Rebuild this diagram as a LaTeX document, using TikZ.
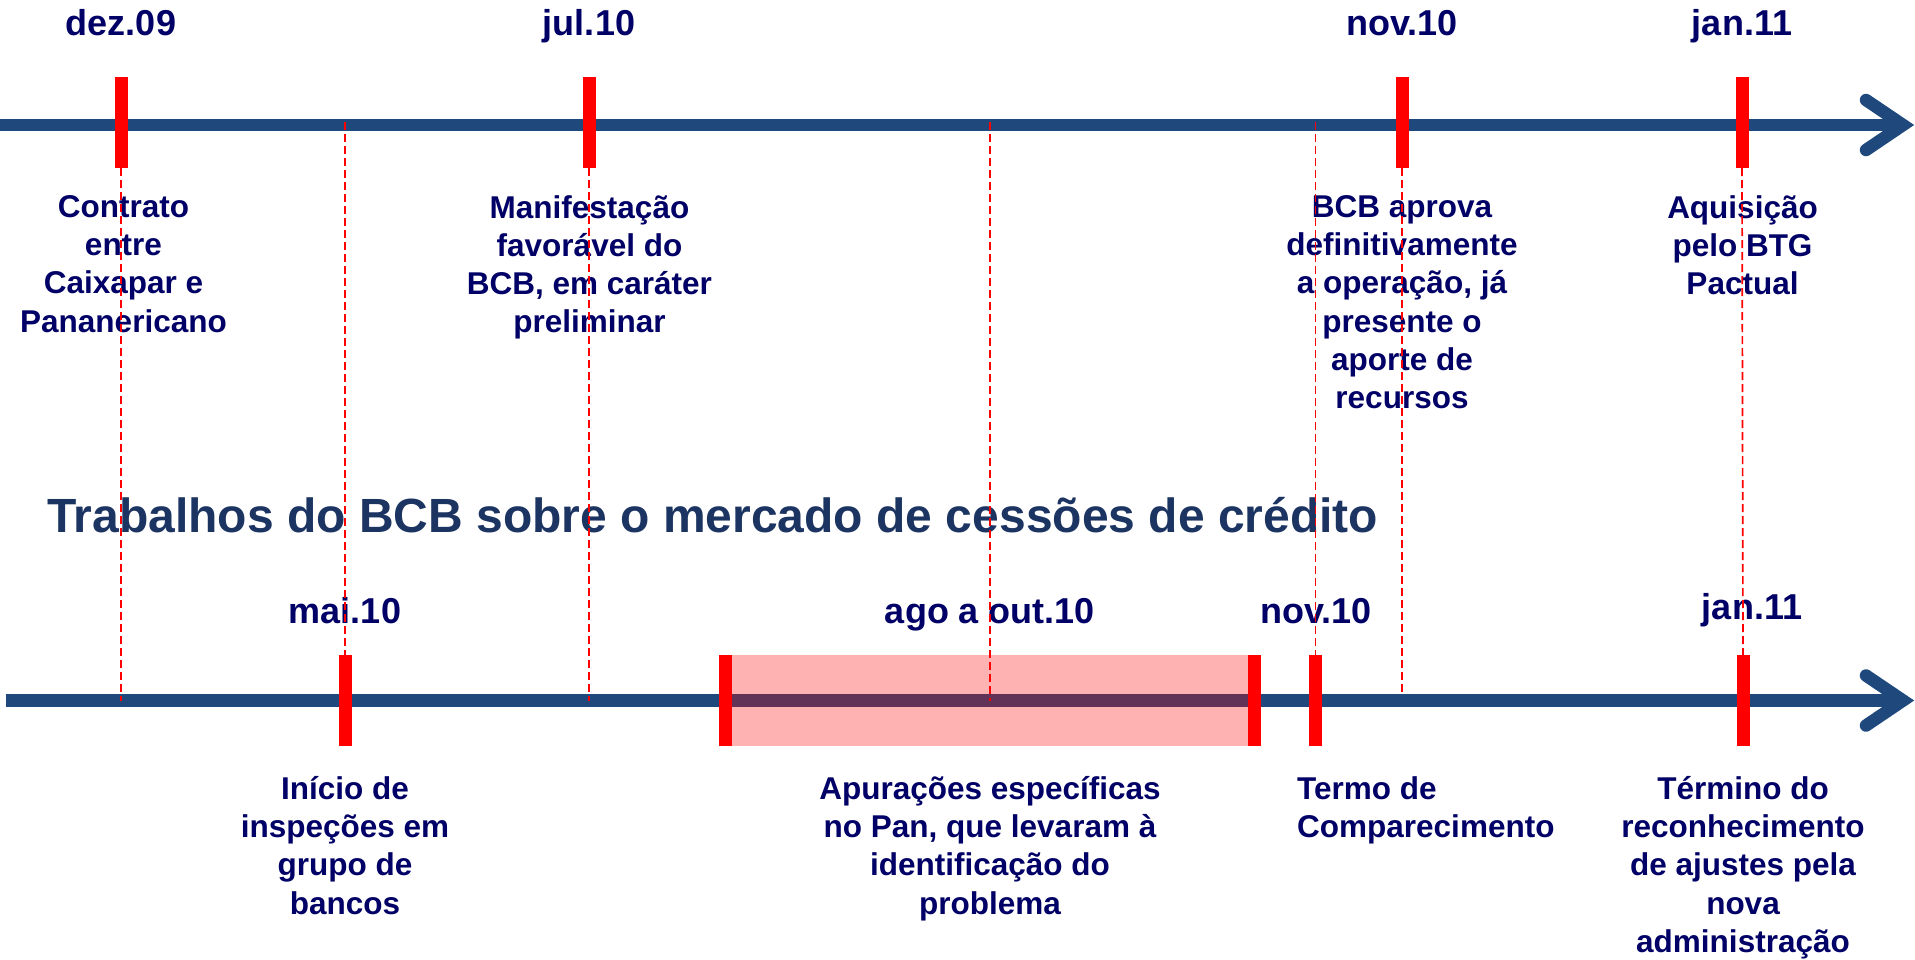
\documentclass[tikz,border=0pt]{standalone}
\usepackage{fontspec}
\setmainfont{Liberation Sans}
\definecolor{axisblue}{RGB}{31,73,125}
\definecolor{txtnavy}{RGB}{0,0,102}
\definecolor{titleblue}{RGB}{28,52,98}
\begin{document}
\begin{tikzpicture}[x=1pt,y=-1pt,
  axisline/.style={draw=axisblue,line width=12.5pt},
  chevron/.style={draw=axisblue,line width=12.5pt,line cap=round,line join=miter},
  tickbar/.style={fill=red,draw=none,inner sep=0pt,minimum width=13pt,minimum height=91pt},
  guide/.style={draw=red,line width=1.7pt,dash pattern=on 8pt off 4pt},
  datelbl/.style={font=\fontsize{36}{40}\selectfont\bfseries,text=txtnavy,anchor=base,inner sep=0pt},
  desc/.style={font=\fontsize{31.5}{38.3}\selectfont\bfseries,text=txtnavy,align=center,anchor=north,inner sep=0pt,
    execute at begin node={\rule{0pt}{30pt}}},
  ]
\useasboundingbox (0,0) rectangle (1915,959);

% axes
\coordinate (ta0) at (0,125);
\coordinate (ta1) at (1900,125);
\coordinate (ba0) at (6,700.5);
\coordinate (ba1) at (1900,700.5);
\draw[axisline] (ta0) -- (ta1);
\draw[chevron] (1866,100) -- (1903,125) -- (1866,150);
\draw[axisline] (ba0) -- (ba1);
\draw[chevron] (1866,675.5) -- (1903,700.5) -- (1866,725.5);

% highlighted period
\node[fill=red,fill opacity=0.3,draw=none,inner sep=0pt,minimum width=542pt,minimum height=91pt] (period) at (990,700.5) {};

% ticks top
\node[tickbar] (tkdez) at (121,122.5) {};
\node[tickbar] (tkjul) at (589,122.5) {};
\node[tickbar] (tknovt) at (1402,122.5) {};
\node[tickbar] (tkjant) at (1742,122.5) {};
% ticks bottom
\node[tickbar] (tkmai) at (345,700.5) {};
\node[tickbar] (tkago) at (725.5,700.5) {};
\node[tickbar] (tkout) at (1254.5,700.5) {};
\node[tickbar] (tknovb) at (1315.5,700.5) {};
\node[tickbar] (tkjanb) at (1743,700.5) {};

% top dates
\node[datelbl] (ldez) at (121,35) {dez.09};
\node[datelbl] (ljul) at (589,35) {jul.10};
\node[datelbl] (lnovt) at (1402,35) {nov.10};
\node[datelbl] (ljant) at (1742,35) {jan.11};

% top descriptions
\node[desc] (xdez) at (123.5,195) {Contrato\\entre\\Caixapar e\\Pananericano};
\node[desc] (xjul) at (589.5,195) {Manifestação\\favorável do\\BCB, em caráter\\preliminar};
\node[desc] (xnovt) at (1402,195) {BCB aprova\\definitivamente\\a operação, já\\presente o\\aporte de\\recursos};
\node[desc] (xjant) at (1742.5,195) {Aquisição\\pelo BTG\\Pactual};

% title
\node[anchor=base west,inner sep=0pt,font=\fontsize{48}{52}\selectfont\bfseries,text=titleblue] (title) at (47,532) {Trabalhos do BCB sobre o mercado de cessões de crédito};

% bottom dates
\node[datelbl] (lmai) at (345,623) {mai.10};
\node[datelbl] (lago) at (990,623) {ago a out.10};
\node[datelbl] (lnovb) at (1316,623) {nov.10};
\node[datelbl] (ljanb) at (1752,619) {jan.11};

% bottom descriptions
\node[desc] (xmai) at (345,776) {Início de\\inspeções em\\grupo de\\bancos};
\node[desc] (xago) at (990,776) {Apurações específicas\\no Pan, que levaram à\\identificação do\\problema};
\node[desc,align=left,anchor=north west] (xnovb) at (1297,776) {Termo de\\Comparecimento};
\node[desc] (xjanb) at (1743,776) {Término do\\reconhecimento\\de ajustes pela\\nova\\administração};

% guide lines
\coordinate (gdez) at (121,700.5);
\coordinate (gmai) at (345,122);
\coordinate (gjul) at (589,700.5);
\coordinate (gagoT) at (990,122);
\coordinate (gagoB) at (990,700.5);
\coordinate (gnovb) at (1315.5,122);
\coordinate (gnovt) at (1402,694);
\draw[guide] (tkdez.south) -- (gdez);
\draw[guide] (gmai) -- (tkmai.north);
\draw[guide] (tkjul.south) -- (gjul);
\draw[guide] (gagoT) -- (gagoB);
\draw[guide] (gnovb) -- (tknovb.north);
\draw[guide] (tknovt.south) -- (gnovt);
\draw[guide] (tkjant.south) -- (tkjanb.north);
\end{tikzpicture}
\end{document}
